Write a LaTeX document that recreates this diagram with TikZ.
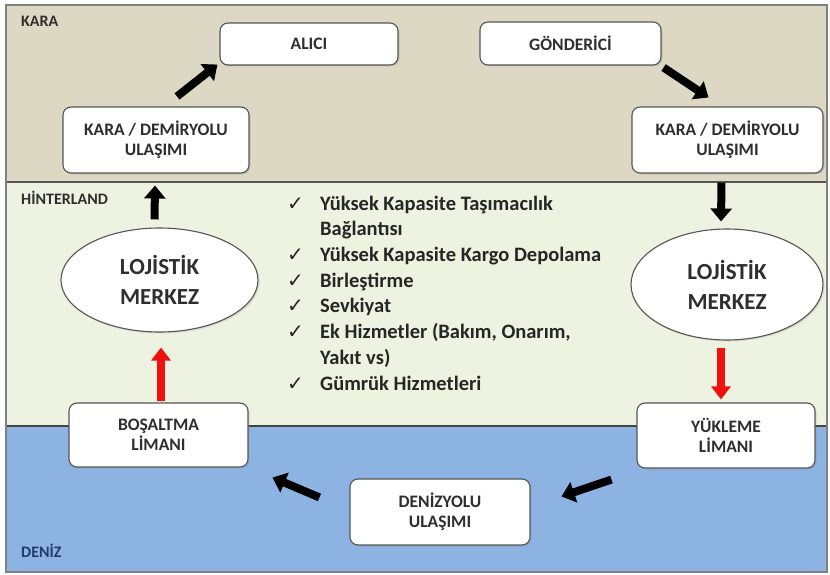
\documentclass[tikz,border=0pt]{standalone}
\usepackage{fontspec}
\setmainfont{Carlito}
\newfontfamily\symfont{DejaVu Sans}
\usetikzlibrary{arrows.meta,shapes.geometric,shadows}

\definecolor{landtan}{HTML}{DDD8C4}
\definecolor{hintergreen}{HTML}{EEF2E0}
\definecolor{seablue}{HTML}{8DB3E2}
\definecolor{edgegray}{HTML}{555555}
\definecolor{labeltext}{HTML}{2E2E2E}
\definecolor{seatext}{HTML}{243A66}
\definecolor{flowred}{HTML}{F01010}

\newcommand{\tick}{\makebox[33pt][l]{\symfont\mdseries\fontsize{20}{20}\selectfont ✓}}

\begin{document}
\begin{tikzpicture}[x=1pt,y=-1pt,
  box/.style={draw=edgegray, line width=1.1pt, fill=white, rounded corners=8pt,
    align=center, inner sep=2pt, text=labeltext,
    font=\fontsize{17.5}{20}\selectfont\bfseries,
    drop shadow={opacity=0.25, shadow xshift=1.5pt, shadow yshift=-1.5pt}},
  hub/.style={ellipse, draw=edgegray, line width=1.1pt, fill=white, inner sep=0pt,
    align=center, text=labeltext, font=\fontsize{23}{30}\selectfont\bfseries,
    drop shadow={opacity=0.2, shadow xshift=1.5pt, shadow yshift=-1.5pt}},
  flow/.style={line width=8pt, black, -{Triangle[length=13pt,width=21pt]}},
  redflow/.style={line width=8pt, flowred, -{Triangle[length=13pt,width=19pt]}},
  zone/.style={anchor=west, inner sep=0pt, font=\fontsize{16}{19}\selectfont\bfseries},
]
\useasboundingbox (0,0) rectangle (830,575);

% three bands: land, hinterland, sea
\fill[landtan] (6,5) rectangle (827,182);
\fill[hintergreen] (6,182) rectangle (827,426);
\fill[seablue] (6,426) rectangle (827,572);
\draw[edgegray, line width=1.2pt] (6,182) -- (827,182);
\draw[edgegray!80!black, line width=1.4pt] (6,426) -- (827,426);
\draw[gray, line width=1.2pt] (6,5) rectangle (827,572);

% band names
\node[zone, text=labeltext] (kara) at (21,21) {KARA};
\node[zone, text=labeltext] (hinterland) at (21,198) {HİNTERLAND};
\node[zone, text=seatext] (deniz) at (21,551) {DENİZ};

% land nodes
\node[box, minimum width=178pt, minimum height=42pt] (alici) at (309,44) {ALICI};
\node[box, minimum width=181pt, minimum height=43pt] (gonderici) at (570.5,43.5) {GÖNDERİCİ};
\node[box, minimum width=186pt, minimum height=66pt] (landL) at (156,140) {KARA / DEMİRYOLU\\ULAŞIMI};
\node[box, minimum width=191pt, minimum height=66pt] (landR) at (727.5,140) {KARA / DEMİRYOLU\\ULAŞIMI};

% logistics centres
\node[hub, minimum width=197pt, minimum height=104pt] (hubL) at (159.5,280) {LOJİSTİK\\MERKEZ};
\node[hub, minimum width=192pt, minimum height=111pt] (hubR) at (727,284.5) {LOJİSTİK\\MERKEZ};

% ports and sea transport
\node[box, minimum width=179pt, minimum height=64pt] (portL) at (158.5,435) {BOŞALTMA\\LİMANI};
\node[box, minimum width=178pt, minimum height=65pt] (portR) at (726,435.5) {YÜKLEME\\LİMANI};
\node[box, minimum width=180pt, minimum height=66pt] (sea) at (440,512) {DENİZYOLU\\ULAŞIMI};

% services of a logistics centre
\node[anchor=north west, inner sep=0pt, text=black!85,
      font=\fontsize{20.5}{25.7}\selectfont\bfseries] (services) at (287,192) {%
  \begin{tabular}{@{}l@{}l@{}}
  \tick & Yüksek Kapasite Taşımacılık\\
        & Bağlantısı\\
  \tick & Yüksek Kapasite Kargo Depolama\\
  \tick & Birleştirme\\
  \tick & Sevkiyat\\
  \tick & Ek Hizmetler (Bakım, Onarım,\\
        & Yakıt vs)\\
  \tick & Gümrük Hizmetleri
  \end{tabular}};

% flows
\draw[flow] ([shift={(21,-10)}]landL.north) -- ([shift={(-2,-1)}]alici.south west);
\draw[flow] ([shift={(2,2)}]gonderici.south east) -- ([shift={(-19,-9)}]landR.north);
\draw[flow] ([shift={(-6,9)}]landR.south) -- ([shift={(-6,-7)}]hubR.north);
\draw[flow] ([shift={(-5,-8)}]hubL.north) -- ([shift={(-1,12)}]landL.south);
\draw[redflow] ([shift={(2.5,-1)}]portL.north) -- ([shift={(1.5,15)}]hubL.south);
\draw[redflow] ([shift={(-6,7)}]hubR.south) -- ([shift={(-5,-3)}]portR.north);
\draw[flow] ([shift={(-25,11)}]portR.south west) -- ([shift={(31,18)}]sea.north east);
\draw[flow] ([shift={(-30,19)}]sea.north west) -- ([shift={(24,10)}]portL.south east);
\end{tikzpicture}
\end{document}
